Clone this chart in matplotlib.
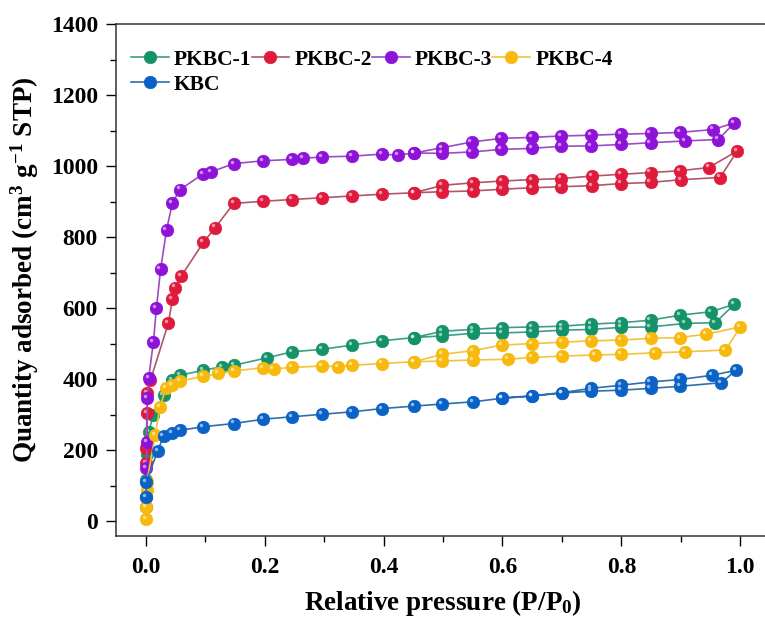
import numpy as np
import matplotlib
matplotlib.use('Agg')
import matplotlib.pyplot as plt
from matplotlib.ticker import MultipleLocator
from matplotlib.transforms import ScaledTranslation

plt.rcParams['font.family'] = ['Liberation Serif', 'DejaVu Serif']
plt.rcParams['font.weight'] = 'bold'
plt.rcParams['mathtext.fontset'] = 'custom'
plt.rcParams['mathtext.rm'] = 'Liberation Serif:bold'
plt.rcParams['mathtext.bf'] = 'Liberation Serif:bold'
plt.rcParams['mathtext.default'] = 'bf'

# PKBC-1
p1_ads_x = [0.0005, 0.001, 0.002, 0.005, 0.013, 0.03, 0.044, 0.058, 0.097, 0.128, 0.148, 0.204, 0.246,
            0.297, 0.347, 0.397, 0.451, 0.499, 0.55, 0.599, 0.649, 0.7, 0.749, 0.8, 0.849, 0.907, 0.958, 0.99]
p1_ads_y = [40, 115, 190, 252, 299, 355, 397, 411, 425, 435, 439, 460, 477,
            484, 496, 508, 517, 522, 529, 530, 533, 538, 540, 546, 547, 557, 559, 611]
p1_des_x = [0.951, 0.898, 0.849, 0.8, 0.749, 0.7, 0.649, 0.599, 0.55, 0.499, 0.451]
p1_des_y = [590, 580, 566, 559, 555, 549, 547, 545, 540, 535, 517]

# PKBC-2
p2_ads_x = [0.0005, 0.001, 0.002, 0.003, 0.008, 0.038, 0.045, 0.05, 0.06, 0.097, 0.117, 0.148, 0.197, 0.246,
            0.297, 0.347, 0.397, 0.451, 0.499, 0.55, 0.599, 0.649, 0.699, 0.75, 0.8, 0.849, 0.901, 0.966, 0.995]
p2_ads_y = [163, 205, 304, 360, 397, 557, 625, 658, 691, 785, 827, 895, 901, 906,
            911, 916, 921, 925, 928, 930, 935, 939, 942, 945, 951, 954, 962, 968, 1043]
p2_des_x = [0.947, 0.898, 0.849, 0.8, 0.75, 0.699, 0.649, 0.599, 0.55, 0.499, 0.451]
p2_des_y = [996, 987, 982, 977, 972, 965, 962, 958, 953, 946, 925]

# PKBC-3
p3_ads_x = [0.0005, 0.001, 0.002, 0.003, 0.005, 0.013, 0.018, 0.025, 0.035, 0.045, 0.058, 0.097, 0.11, 0.148,
            0.197, 0.246, 0.265, 0.297, 0.347, 0.397, 0.424, 0.451, 0.499, 0.548, 0.597, 0.649, 0.699, 0.749,
            0.799, 0.849, 0.907, 0.963, 0.99]
p3_ads_y = [68, 149, 223, 346, 403, 505, 600, 709, 820, 897, 934, 979, 984, 1007,
            1015, 1019, 1022, 1026, 1028, 1034, 1031, 1037, 1036, 1040, 1047, 1050, 1056, 1057,
            1061, 1066, 1071, 1075, 1122]
p3_des_x = [0.954, 0.898, 0.849, 0.799, 0.749, 0.699, 0.649, 0.597, 0.548, 0.499, 0.451]
p3_des_y = [1103, 1095, 1092, 1090, 1087, 1085, 1081, 1078, 1068, 1052, 1037]

# PKBC-4
p4_ads_x = [0.0005, 0.001, 0.0015, 0.002, 0.016, 0.024, 0.034, 0.045, 0.058, 0.097, 0.122, 0.148, 0.197,
            0.215, 0.246, 0.297, 0.323, 0.347, 0.397, 0.451, 0.499, 0.55, 0.61, 0.649, 0.7, 0.755, 0.8,
            0.856, 0.907, 0.975, 1.0]
p4_ads_y = [5, 40, 87, 111, 242, 322, 374, 383, 395, 408, 416, 423, 432,
            429, 433, 437, 435, 439, 444, 449, 451, 454, 456, 461, 465, 468, 470,
            474, 477, 482, 547]
p4_des_x = [0.943, 0.898, 0.849, 0.8, 0.749, 0.7, 0.649, 0.599, 0.55, 0.499, 0.451]
p4_des_y = [527, 517, 515, 510, 508, 504, 500, 496, 480, 470, 449]

# KBC
kbc_ads_x = [0.0005, 0.001, 0.02, 0.03, 0.044, 0.058, 0.097, 0.148, 0.197, 0.246, 0.297, 0.347, 0.397,
             0.451, 0.499, 0.55, 0.599, 0.649, 0.7, 0.749, 0.8, 0.849, 0.899, 0.968, 0.993]
kbc_ads_y = [68, 110, 198, 239, 249, 256, 266, 275, 287, 294, 301, 308, 317,
             324, 330, 336, 346, 352, 361, 366, 369, 374, 380, 390, 425]
kbc_des_x = [0.953, 0.899, 0.849, 0.8, 0.749, 0.7, 0.649, 0.599]
kbc_des_y = [411, 399, 392, 383, 374, 362, 353, 347]

labels = ['PKBC-1', 'PKBC-2', 'PKBC-3', 'PKBC-4', 'KBC']
marker_colors = ['#14926a', '#e01a3c', '#8e12d8', '#f7b90c', '#0b62c6']
line_colors = ['#3f9c8a', '#b2566a', '#9a4cc4', '#f2c43a', '#2f6fae']
series = [(p1_ads_x + p1_des_x, p1_ads_y + p1_des_y),
          (p2_ads_x + p2_des_x, p2_ads_y + p2_des_y),
          (p3_ads_x + p3_des_x, p3_ads_y + p3_des_y),
          (p4_ads_x + p4_des_x, p4_ads_y + p4_des_y),
          (kbc_ads_x + kbc_des_x, kbc_ads_y + kbc_des_y)]

fig = plt.figure(figsize=(7.65, 6.19), dpi=100)
ax = fig.add_axes([0.1516, 0.134, 0.855, 0.827])

shine = ScaledTranslation(-1.5 / 72, 1.5 / 72, fig.dpi_scale_trans)
handles = []
for (xs, ys), lab, mc, lc in zip(series, labels, marker_colors, line_colors):
    h, = ax.plot(xs, ys, '-', color=lc, lw=1.2, marker='o', ms=9, mfc=mc, mec=mc, mew=0.5, label=lab)
    handles.append(h)
    # small glossy highlight on each sphere
    ax.plot(xs, ys, 'o', ms=2.5, color='white', alpha=0.55, mew=0, transform=ax.transData + shine)

ax.set_xlim(-0.05, 1.05)
ax.set_ylim(-42, 1400)
ax.xaxis.set_major_locator(MultipleLocator(0.2))
ax.xaxis.set_minor_locator(MultipleLocator(0.1))
ax.yaxis.set_major_locator(MultipleLocator(200))
ax.yaxis.set_minor_locator(MultipleLocator(100))
ax.tick_params(which='major', direction='out', length=7, width=1, labelsize=17, pad=8)
ax.tick_params(axis='y', which='major', pad=6)
ax.tick_params(which='minor', direction='out', length=4, width=1)
ax.tick_params(top=False, right=False)
ax.xaxis.set_major_formatter(plt.FuncFormatter(lambda v, p: '%.1f' % v))
for s in ax.spines.values():
    s.set_linewidth(1.1)
    s.set_color('#333333')

ax.set_xlabel('Relative pressure (P/P$_0$)', fontsize=19.5, fontweight='bold', labelpad=7)
ax.set_ylabel('Quantity adsorbed (cm$^3$ g$^{-1}$ STP)', fontsize=19.5, fontweight='bold')
ax.yaxis.set_label_coords(-0.114, 0.52)

# column-major fill: put KBC under PKBC-1
order = [0, 4, 1, 2, 3]
ax.legend([handles[i] for i in order], [labels[i] for i in order], loc='upper left',
          bbox_to_anchor=(0.0, 0.98), ncol=4, frameon=False, fontsize=15.5,
          handlelength=1.75, handletextpad=0.25, columnspacing=0.0, borderaxespad=0.3, labelspacing=0.25)

fig.savefig('out.png', dpi=100)
